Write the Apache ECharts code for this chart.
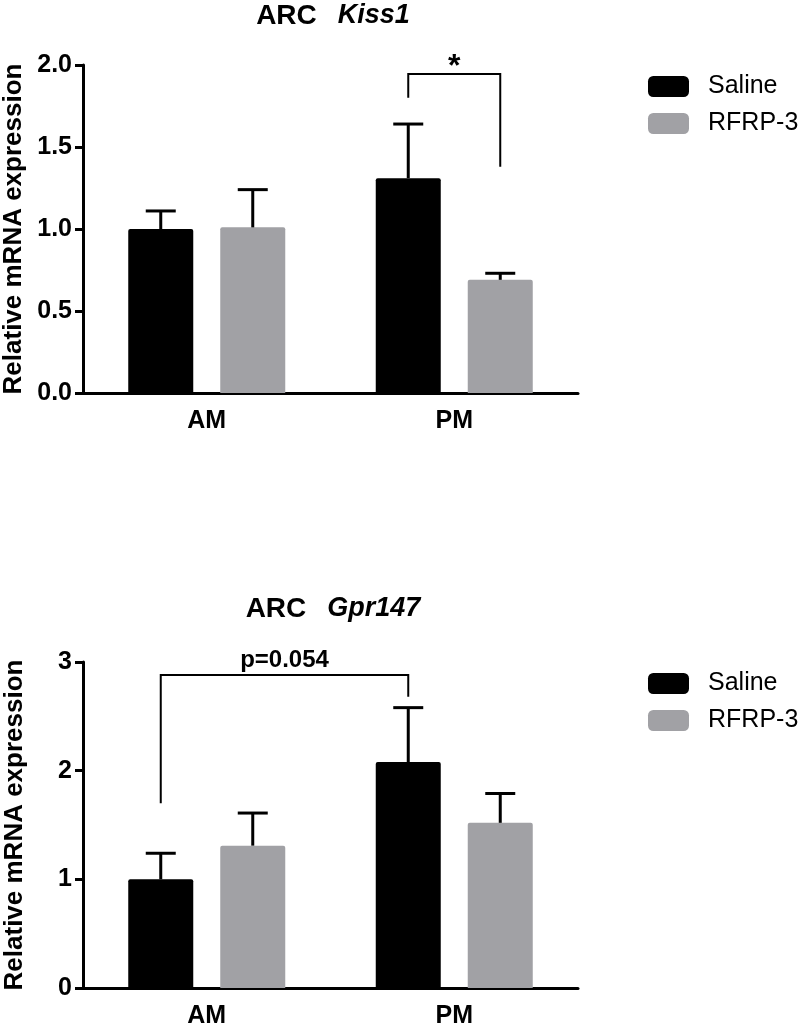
<!DOCTYPE html>
<html>
<head>
<meta charset="utf-8">
<script src="https://cdn.jsdelivr.net/npm/echarts@6/dist/echarts.min.js"></script>
<style>
html,body{margin:0;padding:0;background:#fff;}
#chart{width:800px;height:1025px;}
</style>
</head>
<body>
<div id="chart"></div>
<script>
// data
const categories = ['AM', 'PM'];
const groups = ['Saline', 'RFRP-3'];

const kissSaline = [1.00, 1.31];
const kissSalineUpper = [1.11, 1.64];
const kissRfrp = [1.01, 0.69];
const kissRfrpUpper = [1.24, 0.73];

const gprSaline = [1.00, 2.08];
const gprSalineUpper = [1.24, 2.58];
const gprRfrp = [1.31, 1.52];
const gprRfrpUpper = [1.61, 1.79];

const kissTicks = [0, 0.5, 1.0, 1.5, 2.0];
const gprTicks = [0, 1, 2, 3];

// brackets: [category, group] of each leg, top value, leg end values, label
const kissBracket = [[1, 0], [1, 1], 1.945, 1.80, 1.38, '*'];
const gprBracket = [[0, 0], [1, 0], 2.88, 1.70, 2.68, 'p=0.054'];

const FONT = '"Liberation Sans", Arial, Helvetica, sans-serif';
const BLACK = '#000000';
const GREY = '#a1a1a5';
const BAR_W = 65;
const BAR_GAP = 27;
const OFF = (BAR_W + BAR_GAP) / 2;
const CAP = 15;

function errorRender(sign) {
    return function (params, api) {
        let cat = api.value(0);
        let base = api.coord([cat, api.value(1)]);
        let top = api.coord([cat, api.value(2)]);
        let x = base[0] + sign * OFF;
        let st = {stroke: BLACK, lineWidth: 3};
        return {
            type: 'group',
            children: [
                {type: 'line', shape: {x1: x, y1: base[1], x2: x, y2: top[1]}, style: st},
                {type: 'line', shape: {x1: x - CAP, y1: top[1], x2: x + CAP, y2: top[1]}, style: st}
            ]
        };
    };
}

function bracketRender(b, fontSize, labelDy) {
    return function (params, api) {
        let a = api.coord([b[0][0], b[2]]);
        let c = api.coord([b[1][0], b[2]]);
        let xa = a[0] + (b[0][1] === 0 ? -OFF : OFF);
        let xc = c[0] + (b[1][1] === 0 ? -OFF : OFF);
        let yTop = a[1];
        let yl = api.coord([b[0][0], b[3]])[1];
        let yr = api.coord([b[1][0], b[4]])[1];
        return {
            type: 'group',
            children: [
                {type: 'polyline', shape: {points: [[xa, yl], [xa, yTop], [xc, yTop], [xc, yr]]},
                    style: {stroke: BLACK, lineWidth: 2, fill: null}},
                {type: 'text', x: (xa + xc) / 2, y: yTop + labelDy,
                    style: {text: b[5], textAlign: 'center', textVerticalAlign: 'bottom',
                        font: 'bold ' + fontSize + 'px ' + FONT, fill: BLACK}}
            ]
        };
    };
}

function errData(vals, upper) {
    return categories.map((c, i) => [i, vals[i], upper[i]]);
}

let chart = echarts.init(document.getElementById('chart'));

let grids = [
    {left: 83, right: 222, top: 65, height: 328, outerBoundsMode: 'none'},
    {left: 83, right: 222, top: 662, height: 326, outerBoundsMode: 'none'}
];

function xAxisFor(idx) {
    return {
        type: 'category', gridIndex: idx, data: categories,
        axisLine: {lineStyle: {color: BLACK, width: 3}},
        axisTick: {alignWithLabel: true, length: 8, lineStyle: {color: BLACK, width: 3}},
        axisLabel: {color: BLACK, fontFamily: FONT, fontWeight: 'bold', fontSize: 25, margin: 16}
    };
}

function yAxisFor(idx, ticks, fmt) {
    return {
        type: 'value', gridIndex: idx,
        min: ticks[0], max: ticks[ticks.length - 1], interval: ticks[1] - ticks[0],
        name: 'Relative mRNA expression', nameLocation: 'middle', nameGap: 55,
        nameTextStyle: {color: BLACK, fontFamily: FONT, fontWeight: 'bold', fontSize: 26},
        axisLine: {show: true, lineStyle: {color: BLACK, width: 3}},
        axisTick: {show: true, length: 8, lineStyle: {color: BLACK, width: 3}},
        splitLine: {show: false},
        axisLabel: {color: BLACK, fontFamily: FONT, fontWeight: 'bold', fontSize: 25, margin: 11,
            formatter: fmt}
    };
}

function titleFor(gene, top) {
    return {
        text: '{a|ARC}{b|' + gene + '}',
        left: 328, top: top, textAlign: 'center',
        textStyle: {
            rich: {
                a: {fontFamily: FONT, fontWeight: 'bold', fontSize: 28, color: BLACK, padding: [0, 21, 0, 0]},
                b: {fontFamily: FONT, fontWeight: 'bold', fontStyle: 'italic', fontSize: 27, color: BLACK}
            }
        }
    };
}

function legendFor(top) {
    return {
        data: groups, left: 643, top: top, orient: 'vertical',
        itemWidth: 41, itemHeight: 21, itemGap: 12, icon: 'roundRect',
        selectedMode: false,
        textStyle: {color: BLACK, fontFamily: FONT, fontSize: 25, padding: [0, 0, 0, 14]}
    };
}

function barSeries(name, vals, color, idx) {
    return {
        type: 'bar', name: name, xAxisIndex: idx, yAxisIndex: idx, data: vals,
        barWidth: BAR_W, barGap: (BAR_GAP / BAR_W * 100) + '%',
        itemStyle: {color: color, borderRadius: [2, 2, 0, 0]},
        z: 2
    };
}

function errSeries(vals, upper, sign, idx) {
    return {
        type: 'custom', xAxisIndex: idx, yAxisIndex: idx,
        data: errData(vals, upper), renderItem: errorRender(sign), z: 3, silent: true
    };
}

function bracketSeries(b, fs, dy, idx) {
    return {
        type: 'custom', xAxisIndex: idx, yAxisIndex: idx,
        data: [[b[0][0], b[2]]], renderItem: bracketRender(b, fs, dy), z: 3, silent: true
    };
}

let option = {
    animation: false,
    backgroundColor: '#fff',
    title: [titleFor('Kiss1', -3), titleFor('Gpr147', 590)],
    legend: [legendFor(69), legendFor(666)],
    grid: grids,
    xAxis: [xAxisFor(0), xAxisFor(1)],
    yAxis: [
        yAxisFor(0, kissTicks, v => v.toFixed(1)),
        yAxisFor(1, gprTicks, v => String(v))
    ],
    series: [
        barSeries('Saline', kissSaline, BLACK, 0),
        barSeries('RFRP-3', kissRfrp, GREY, 0),
        errSeries(kissSaline, kissSalineUpper, -1, 0),
        errSeries(kissRfrp, kissRfrpUpper, 1, 0),
        bracketSeries(kissBracket, 32, 9, 0),
        barSeries('Saline', gprSaline, BLACK, 1),
        barSeries('RFRP-3', gprRfrp, GREY, 1),
        errSeries(gprSaline, gprSalineUpper, -1, 1),
        errSeries(gprRfrp, gprRfrpUpper, 1, 1),
        bracketSeries(gprBracket, 24, -3, 1)
    ]
};
chart.setOption(option);
</script>
</body>
</html>
